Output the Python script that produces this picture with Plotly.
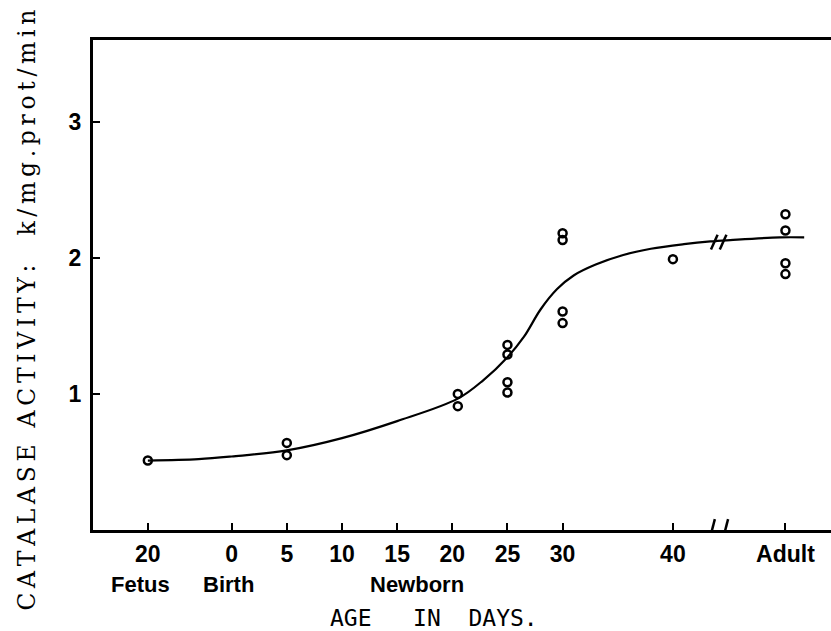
import plotly.graph_objects as go

# Axis positions (in days; Fetus and Adult placed on compressed positions)
tick_pos = [-7.6, 0, 5, 10, 15, 20, 25, 30, 40, 50.2]
tick_text = ["20", "0", "5", "10", "15", "20", "25", "30", "40", "Adult"]
y_ticks = [1, 2, 3]

# Measured points
pt_x = [-7.6, 5, 5, 20.5, 20.5, 25, 25, 25, 25, 30, 30, 30, 30, 40, 50.2, 50.2, 50.2, 50.2]
pt_y = [0.51, 0.64, 0.55, 1.00, 0.91, 1.36, 1.29, 1.085, 1.01, 2.18, 2.13, 1.605, 1.52, 1.99, 2.32, 2.20, 1.96, 1.88]

# Fitted curve
curve_x = [-7.6, -3, 0, 5, 10, 15, 20.5, 22.8, 25, 26.5, 28, 29.5, 31, 33, 35.5, 38, 41, 43.4, 45.2, 49.7, 51.9]
curve_y = [0.51, 0.52, 0.54, 0.585, 0.675, 0.80, 0.965, 1.1, 1.27, 1.42, 1.62, 1.77, 1.87, 1.95, 2.02, 2.066, 2.10, 2.12, 2.13, 2.15, 2.15]

# Group labels under the axis
group_labels = ["Fetus", "Birth", "Newborn"]
group_pos = [-8.3, -0.3, 16.8]

y_title = "CATALASE ACTIVITY:  k/mg.prot/min"

fig = go.Figure()
fig.add_trace(go.Scatter(x=curve_x, y=curve_y, mode="lines",
                         line=dict(color="black", width=2.2, shape="spline", smoothing=1.0),
                         hoverinfo="skip", showlegend=False))
fig.add_trace(go.Scatter(x=pt_x, y=pt_y, mode="markers",
                         marker=dict(symbol="circle-open", size=8, color="black",
                                     line=dict(color="black", width=2.5)),
                         showlegend=False))

# break marks
shapes = []
for bx in [43.5, 44.7]:
    shapes.append(dict(type="line", xref="x", yref="y", x0=bx - 0.3, y0=-0.11, x1=bx + 0.3, y1=0.08,
                       line=dict(color="black", width=2.5)))
for bx in [43.75, 44.55]:
    shapes.append(dict(type="line", xref="x", yref="y", x0=bx - 0.3, y0=2.06, x1=bx + 0.3, y1=2.17,
                       line=dict(color="black", width=2.5)))

annotations = []
for lab, gx in zip(group_labels, group_pos):
    annotations.append(dict(text=lab, x=gx, y=0, xref="x", yref="paper", yanchor="middle",
                            xanchor="center", yshift=-54, showarrow=False,
                            font=dict(family="Liberation Sans", size=22, color="black", weight=700)))
annotations.append(dict(text="AGE&nbsp;&nbsp;&nbsp;IN&nbsp;&nbsp;DAYS.", x=18.3, y=0, xref="x", yref="paper",
                        yanchor="middle", xanchor="center", yshift=-88, showarrow=False,
                        font=dict(family="DejaVu Sans Mono", size=23, color="black")))
spaced = "\u2009".join(ch if ch != " " else "\u00a0" for ch in y_title)
annotations.append(dict(text=spaced, x=-0.09, y=0.449,
                        xref="paper", yref="paper", textangle=-90, showarrow=False,
                        xanchor="center", yanchor="middle",
                        font=dict(family="DejaVu Serif", size=23.5, color="black")))

fig.update_layout(
    width=831, height=631,
    margin=dict(l=93, r=0, t=40, b=101),
    plot_bgcolor="white", paper_bgcolor="white",
    shapes=shapes, annotations=annotations,
    xaxis=dict(range=[-12.57, 54.33], tickvals=tick_pos, ticktext=tick_text,
               showline=True, linecolor="black", linewidth=3, mirror=True,
               ticks="inside", ticklen=7, tickwidth=2, tickcolor="black",
               showgrid=False, zeroline=False, ticklabelstandoff=1,
               tickfont=dict(family="Liberation Sans", size=23, color="black", weight=700)),
    yaxis=dict(range=[0, 3.6], tickvals=y_ticks, ticktext=[str(v) for v in y_ticks],
               showline=True, linecolor="black", linewidth=3,
               ticks="inside", ticklen=7, tickwidth=2, tickcolor="black",
               showgrid=False, zeroline=False, ticklabelstandoff=4,
               tickfont=dict(family="Liberation Sans", size=23, color="black", weight=700)),
)

fig.write_html("out.html")
